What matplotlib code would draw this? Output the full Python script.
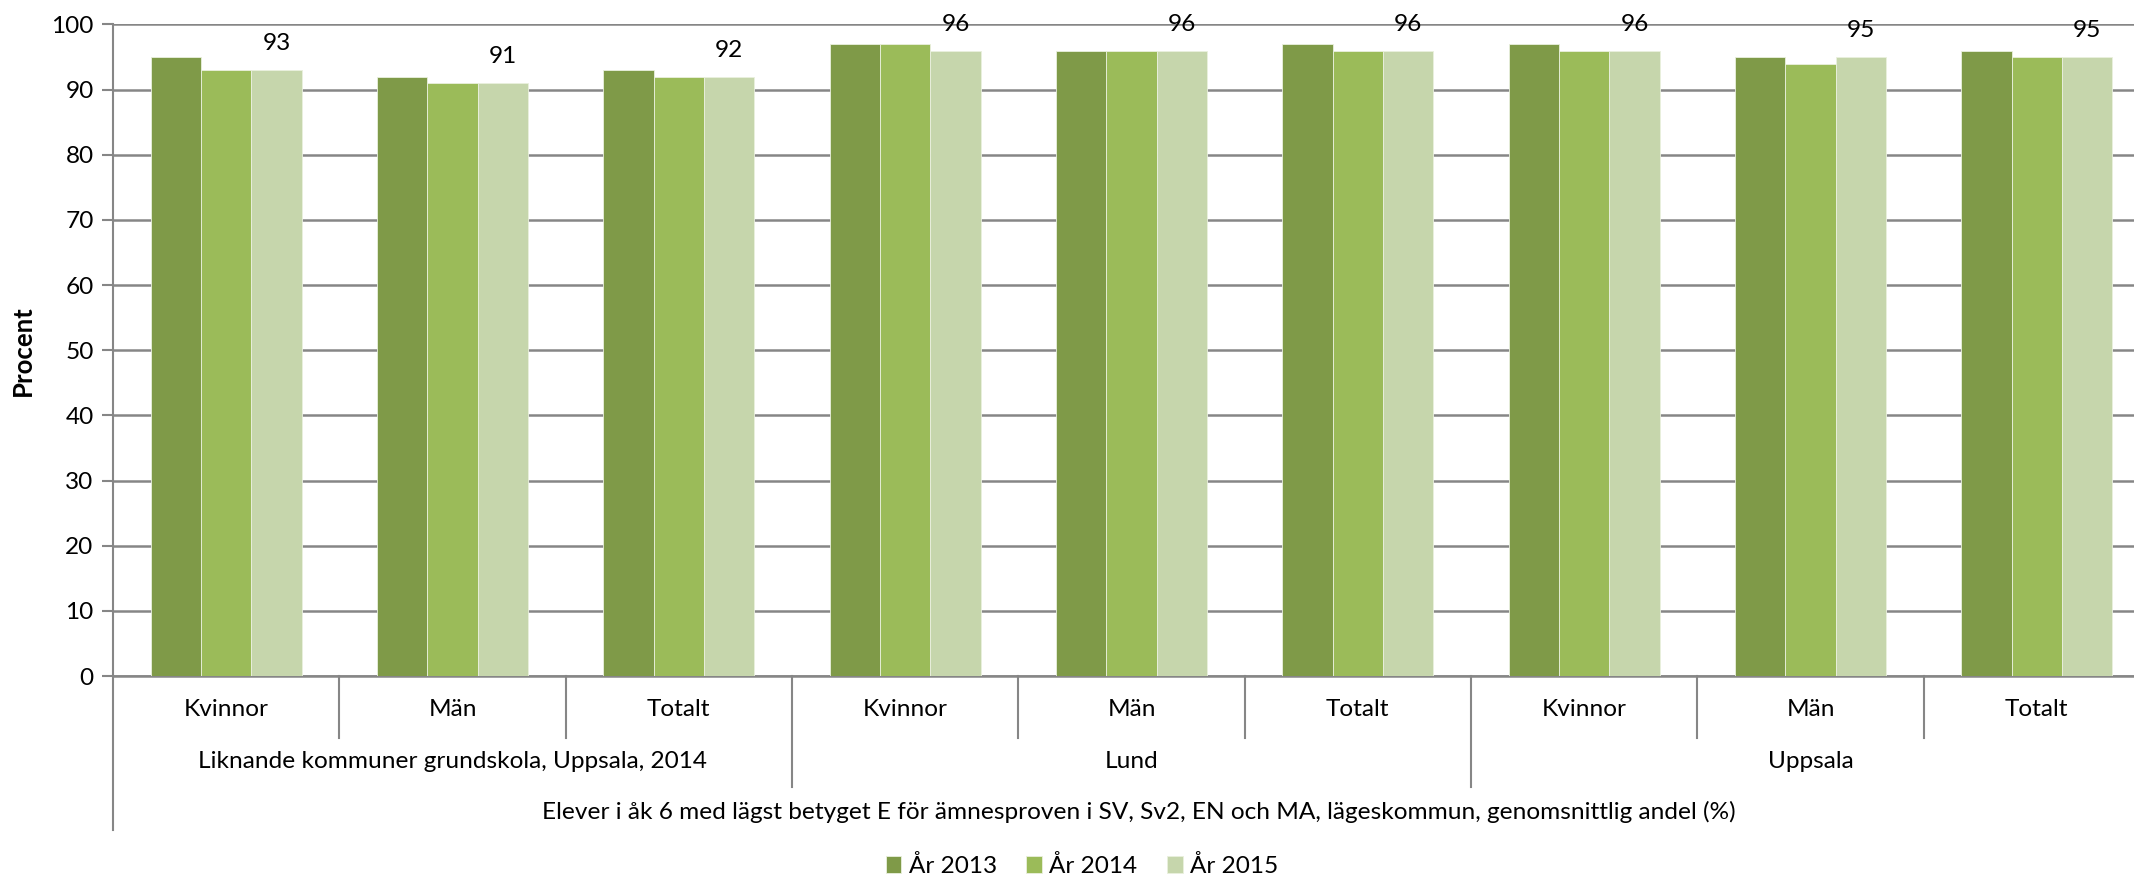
import matplotlib as mpl
mpl.use('Agg')
import matplotlib.pyplot as plt
import matplotlib.transforms as mtransforms
import numpy as np

plt.rcParams['font.family'] = ['Lato', 'DejaVu Sans']

# data
groups = ['Liknande kommuner grundskola, Uppsala, 2014', 'Lund', 'Uppsala']
subcats = ['Kvinnor', 'Män', 'Totalt']
series_names = ['År 2013', 'År 2014', 'År 2015']
y2013 = [95, 92, 93, 97, 96, 97, 97, 95, 96]
y2014 = [93, 91, 92, 97, 96, 96, 96, 94, 95]
y2015 = [93, 91, 92, 96, 96, 96, 96, 95, 95]
title_row = 'Elever i åk 6 med lägst betyget E för ämnesproven i SV, Sv2, EN och MA, lägeskommun, genomsnittlig andel (%)'
colors = ['#7F9A48', '#9BBB59', '#C6D6AC']

W, H = 2134, 880
fig = plt.figure(figsize=(W / 100, H / 100), dpi=100)
left, right, top, bottom = 113, 2150, 24.5, 676
ax = fig.add_axes([left / W, 1 - bottom / H, (right - left) / W, (bottom - top) / H])

n = len(y2013)
x = np.arange(n)
bw = 0.222
fs = 17.6
for k, (vals, c, name) in enumerate(zip([y2013, y2014, y2015], colors, series_names)):
    ax.bar(x + (k - 1) * bw, vals, width=bw, color=c, label=name,
           edgecolor='#EAF0DE', linewidth=0.6, zorder=3)
    if k == 2:
        for xi, v in zip(x + bw, vals):
            ax.annotate(str(v), (xi, v), xytext=(0, 19), textcoords='offset points',
                        ha='center', va='center', fontsize=fs, color='black')

ax.set_xlim(-0.5, n - 0.5)
ax.set_ylim(0, 100)
ax.set_yticks(range(0, 101, 10))
ax.tick_params(axis='y', labelsize=fs, length=8, width=1.5, color='#868686', pad=6)
ax.tick_params(axis='x', length=0, labelbottom=False)
ax.yaxis.grid(True, color='#868686', linewidth=1.8, zorder=0)
ax.set_axisbelow(True)
for s in ['top', 'right', 'bottom']:
    ax.spines[s].set_visible(False)
ax.spines['left'].set_color('#868686')
ax.spines['left'].set_linewidth(1.5)
ax.set_ylabel('Procent', fontsize=18.5, fontweight='bold', labelpad=12)

# multi-level category axis below the plot
tr = mtransforms.blended_transform_factory(ax.transData, fig.transFigure)
def fy(px):
    return 1 - px / H

ax.plot([-0.5, n], [fy(bottom)] * 2, transform=tr, color='#868686', lw=1.8, clip_on=False)
for i in range(n + 1):
    b = i - 0.5
    if b == -0.5:
        end = 830
    elif i % 3 == 0:
        end = 787
    else:
        end = 738
    ax.plot([b, b], [fy(bottom), fy(end)], transform=tr, color='#868686', lw=1.5, clip_on=False)

for i in range(n):
    ax.text(i, fy(709), subcats[i % 3], transform=tr, ha='center', va='center', fontsize=fs)
for g, name in enumerate(groups):
    ax.text(3 * g + 1, fy(761), name, transform=tr, ha='center', va='center', fontsize=fs)
fig.text(1139 / W, fy(812), title_row, ha='center', va='center', fontsize=fs)

fig.legend(loc='center', bbox_to_anchor=(1082 / W, fy(866)), ncol=3, frameon=False,
           fontsize=fs, handlelength=0.65, handleheight=0.65, handletextpad=0.3, columnspacing=1.2)

fig.savefig('out.png', dpi=100)
